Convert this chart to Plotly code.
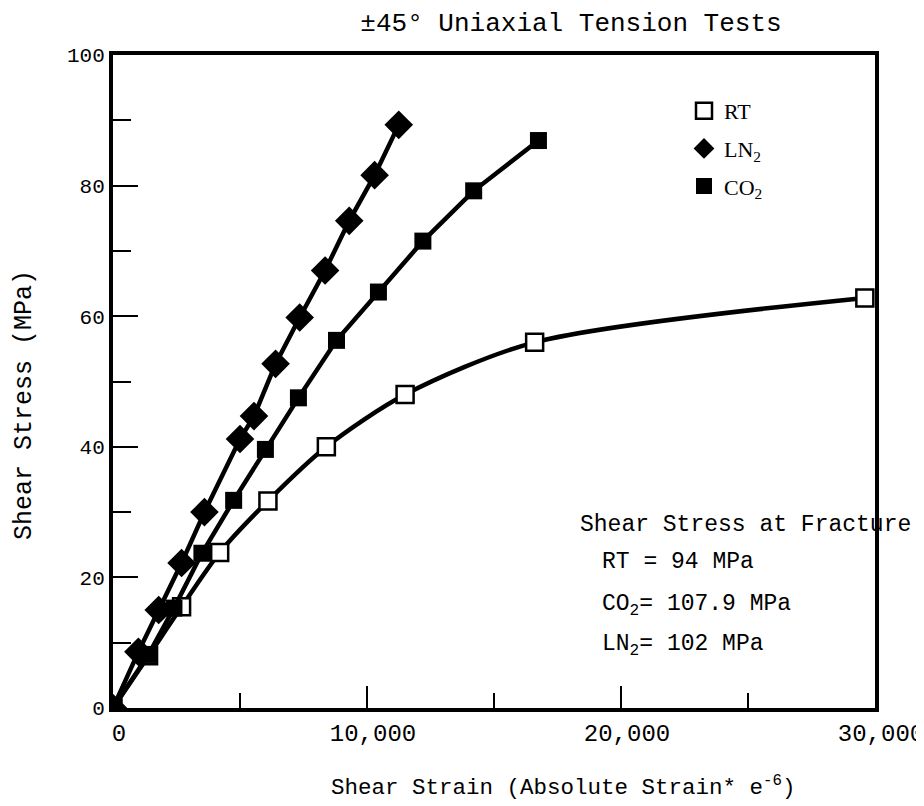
import plotly.graph_objects as go

# ---- data ----
rt_x = [0, 1400, 2700, 4200, 6100, 8400, 11500, 16600, 29600]
rt_y = [0, 8.0, 15.5, 23.8, 31.7, 40.0, 48.0, 56.0, 62.8]

ln2_x = [0, 1000, 1800, 2700, 3600, 5000, 5550, 6400, 7350, 8350, 9300, 10300, 11250]
ln2_y = [0, 8.6, 15.0, 22.2, 30.0, 41.2, 44.7, 52.7, 59.8, 67.0, 74.6, 81.6, 89.3]

co2_x = [0, 1400, 2400, 3500, 4750, 6000, 7300, 8800, 10450, 12200, 14200, 16750]
co2_y = [0, 8.2, 15.3, 23.7, 31.8, 39.6, 47.5, 56.3, 63.7, 71.5, 79.2, 86.9]

x_ticks = [0, 10000, 20000, 30000]
x_tick_labels = ["0", "10,000", "20,000", "30,000"]
y_ticks = [0, 20, 40, 60, 80, 100]

series_names = ["RT", "LN<sub>2</sub>", "CO<sub>2</sub>"]
fracture_title = "Shear Stress at Fracture"
fracture_lines = ["RT = 94 MPa", "CO<sub>2</sub>= 107.9 MPa", "LN<sub>2</sub>= 102 MPa"]

MONO = "Liberation Mono, Courier New, monospace"
SERIF = "Liberation Serif, Times New Roman, serif"

# page has an 8px body margin; figure is sized to fit the window
OFF = 8
W, H = 916, 798
L, R, T, B = 105, 49, 47, 98
pw, ph = W - L - R, H - T - B


def px_x(p):  # page pixel -> paper fraction
    return (p - OFF - L) / pw


def px_y(p):
    return (H - B - (p - OFF)) / ph


fig = go.Figure()

fig.add_trace(go.Scatter(x=rt_x, y=rt_y, mode="lines+markers",
                         line=dict(color="black", width=4.5, shape="spline", smoothing=0.8),
                         marker=dict(symbol="square", size=17, color="white",
                                     line=dict(color="black", width=2.5)),
                         showlegend=False))
fig.add_trace(go.Scatter(x=co2_x, y=co2_y, mode="lines+markers",
                         line=dict(color="black", width=4.5),
                         marker=dict(symbol="square", size=17, color="black"),
                         showlegend=False))
fig.add_trace(go.Scatter(x=ln2_x, y=ln2_y, mode="lines+markers",
                         line=dict(color="black", width=4.5),
                         marker=dict(symbol="diamond", size=22, color="black"),
                         showlegend=False))

# legend-only entries (markers only)
fig.add_trace(go.Scatter(x=[None], y=[None], mode="markers", name=series_names[0],
                         legendgroup="a",
                         marker=dict(symbol="square", size=17, color="white",
                                     line=dict(color="black", width=2.5))))
fig.add_trace(go.Scatter(x=[None], y=[None], mode="markers", name=series_names[1],
                         legendgroup="b",
                         marker=dict(symbol="diamond", size=22, color="black")))
fig.add_trace(go.Scatter(x=[None], y=[None], mode="markers", name=series_names[2],
                         legendgroup="c",
                         marker=dict(symbol="square", size=17, color="black")))

txt_font = dict(family=MONO, size=23, color="black")
annotations = [
    dict(text=fracture_title, x=px_x(578), y=px_y(525), xanchor="left",
         yanchor="middle", showarrow=False, xref="paper", yref="paper", font=txt_font),
]
for t, yy in zip(fracture_lines, [562, 605, 645]):
    annotations.append(dict(text=t, x=px_x(600), y=px_y(yy), xanchor="left",
                            yanchor="middle", showarrow=False,
                            xref="paper", yref="paper", font=txt_font))
annotations.append(dict(text="Shear Strain (Absolute Strain* e<sup>-6</sup>)",
                        x=px_x(563), y=px_y(786), xanchor="center", yanchor="middle",
                        showarrow=False, xref="paper", yref="paper",
                        font=dict(family=MONO, size=22.5, color="black")))
annotations.append(dict(text="Shear Stress (MPa)", x=px_x(24), y=px_y(405),
                        xanchor="center", yanchor="middle", textangle=-90,
                        showarrow=False, xref="paper", yref="paper",
                        font=dict(family=MONO, size=25, color="black")))

fig.update_layout(
    width=W, height=H,
    margin=dict(l=L, r=R, t=T, b=B, autoexpand=False),
    paper_bgcolor="white", plot_bgcolor="white",
    title=dict(text="±45° Uniaxial Tension Tests", x=(571 - OFF) / W,
               y=1 - (22 - OFF) / H, xanchor="center", yanchor="middle",
               font=dict(family=MONO, size=26, color="black")),
    legend=dict(x=px_x(684), y=px_y(90), xanchor="left", yanchor="top",
                bgcolor="rgba(0,0,0,0)", font=dict(family=SERIF, size=22, color="black"),
                itemwidth=30, tracegroupgap=6),
    annotations=annotations,
    xaxis=dict(range=[0, 30000], tickvals=x_ticks, ticktext=x_tick_labels,
               automargin=False,
               showgrid=False, zeroline=False, showline=True, linewidth=4,
               linecolor="black", mirror=True, ticks="inside", ticklen=22,
               tickwidth=2, tickcolor="black", ticklabelshift=6,
               ticklabeloverflow="allow",
               tickfont=dict(family=MONO, size=24, color="black"),
               minor=dict(dtick=5000, ticks="inside", ticklen=15, tickwidth=2,
                          tickcolor="black")),
    yaxis=dict(range=[0, 100], tickvals=y_ticks, automargin=False,
               showgrid=False, zeroline=False, showline=True, linewidth=4,
               linecolor="black", mirror=True, ticks="inside", ticklen=25,
               tickwidth=2, tickcolor="black", ticklabeloverflow="allow",
               tickfont=dict(family=MONO, size=21, color="black"),
               minor=dict(dtick=10, ticks="inside", ticklen=18, tickwidth=2,
                          tickcolor="black")),
)

fig.write_html("out.html")
